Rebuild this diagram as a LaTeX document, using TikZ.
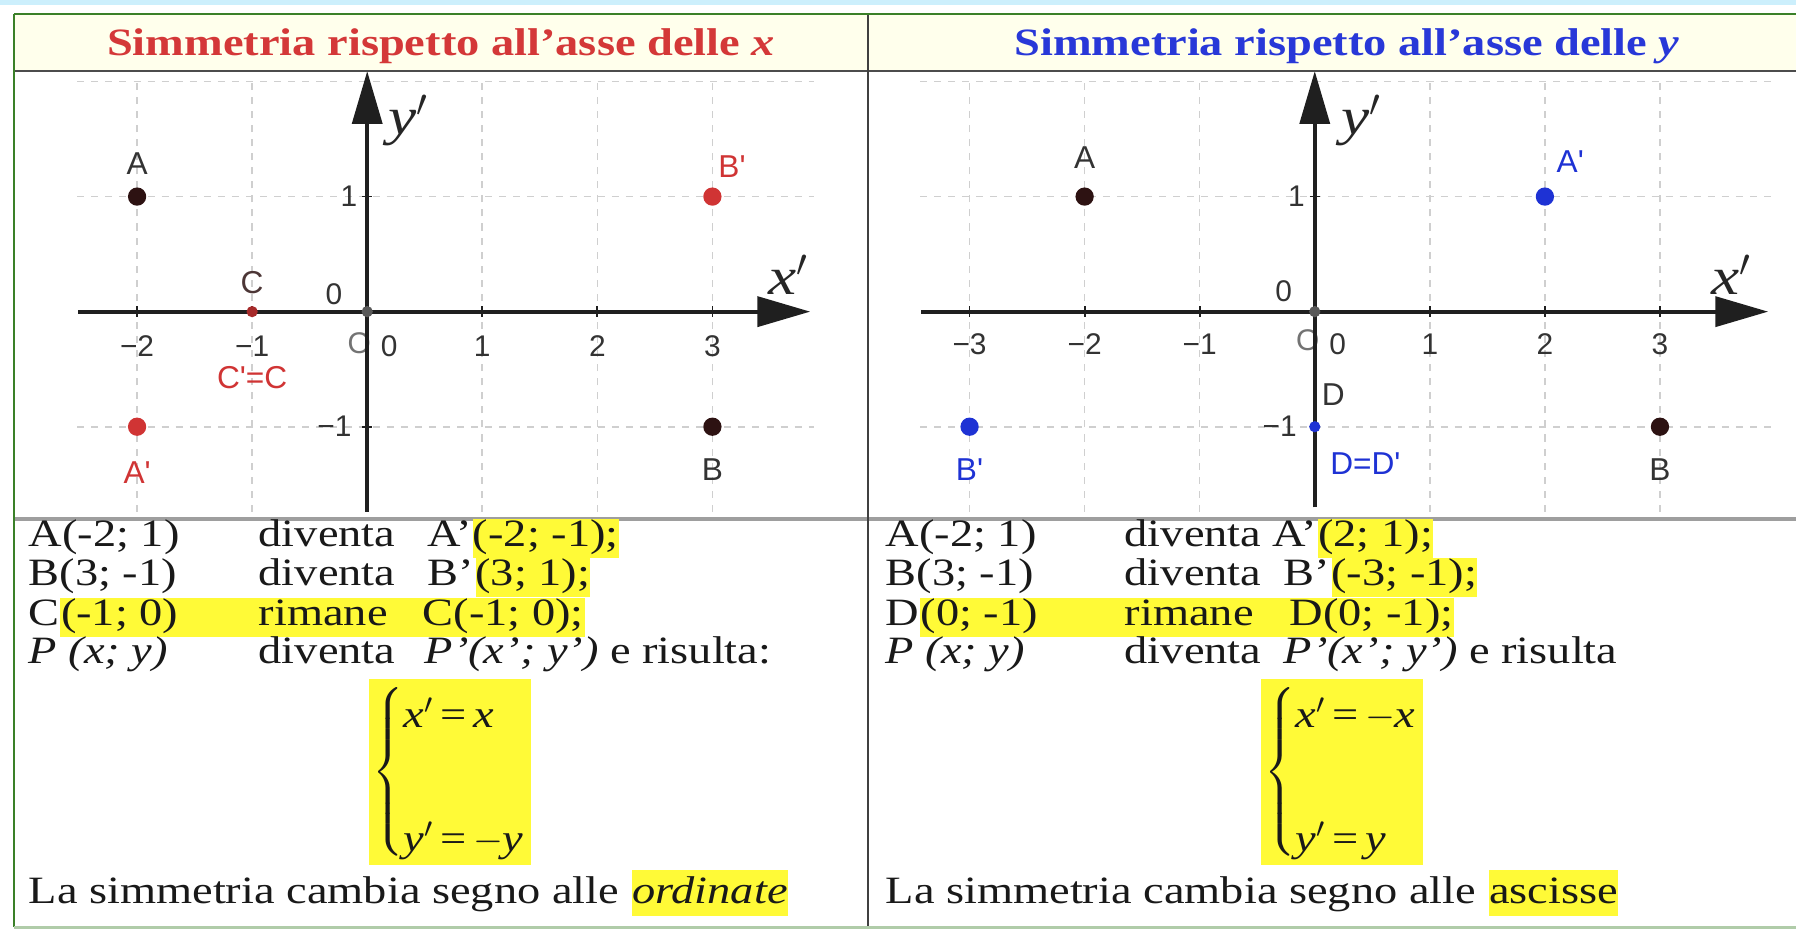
\documentclass[tikz,border=0pt]{standalone}
\usepackage{fontspec}
\setmainfont{Liberation Serif}[FakeStretch=1.2]
\newfontfamily\ggbfont{Liberation Sans}
\usepackage{tikz}
\usetikzlibrary{positioning,arrows.meta,backgrounds}

\definecolor{hl}{RGB}{255,250,55}
\definecolor{ggbred}{RGB}{208,52,52}
\definecolor{ggbblue}{RGB}{30,50,212}
\definecolor{ggbdark}{RGB}{45,18,18}
\definecolor{framegreen}{RGB}{58,128,40}
\definecolor{headbg}{RGB}{255,255,236}
\definecolor{titlered}{RGB}{212,56,56}
\definecolor{titleblue}{RGB}{40,56,216}

\begin{document}
\begin{tikzpicture}[x=0.01cm, y=0.01cm, >={Triangle[length=15pt,width=8.5pt]},
    gridline/.style={draw=gray!38, line width=0.45pt, dash pattern=on 2pt off 2pt},
    axisline/.style={draw=black!88, line width=1.1pt, ->},
    tickmark/.style={draw=black!88, line width=0.5pt},
    ggbdot/.style={circle, inner sep=0pt, minimum size=5.2pt, fill=#1},
    smalldot/.style={circle, inner sep=0pt, minimum size=3.2pt, fill=#1},
    lbl/.style={font=\ggbfont\fontsize{9}{10}\selectfont, inner sep=0pt},
    ticklbl/.style={font=\ggbfont\fontsize{8.5}{10}\selectfont, inner sep=0pt, text=black!80},
    axislbl/.style={font=\itshape\fontsize{15}{16}\selectfont, inner sep=0pt, text=black!85},
    cell/.style={anchor=base west, inner sep=0pt, text height=0.265cm, text depth=0.115cm, font=\fontsize{11}{13}\selectfont, text=black!90},
    hlcell/.style={cell, fill=hl},
    headtxt/.style={anchor=base, inner sep=0pt, font=\bfseries\fontsize{11}{13}\selectfont},
    system/.style={anchor=north west, fill=hl, inner xsep=1pt, inner ysep=0pt, minimum width=1.51cm, minimum height=1.83cm, font=\fontsize{11}{13}\selectfont, text=black!90}]

    \useasboundingbox (0,0) rectangle (1796,929);

    % Fondo
    \fill[cyan!20] (0,924) rectangle (1796,929);
    \fill[headbg] (15,858) rectangle (1796,915);

    % Grafico: simmetria rispetto all'asse x
    \begin{scope}[xshift=3.67cm, yshift=6.17cm, x=1.15cm, y=1.15cm]
        \foreach \x in {-2,-1,1,2,3}
            \draw[gridline] (\x,-1.74) -- (\x,2.03);
        \foreach \y in {-1,1,2}
            \draw[gridline] (-2.52,\y) -- (3.88,\y);
        \node[ticklbl, text=black!55] (LlO) at (-0.07,-0.27) {O};
        \draw[axisline] (-2.51,0) -- (3.85,0);
        \draw[axisline] (0,-1.74) -- (0,2.09);
        \foreach \x in {-2,-1,1,2,3}
            \draw[tickmark] (\x,-0.045) -- (\x,0.045);
        \foreach \y in {-1,1}
            \draw[tickmark] (-0.045,\y) -- (0.045,\y);

        \foreach \x/\t in {-2/−2,-1/−1,1/1,2/2,3/3}
            \node[ticklbl] (Ltx\x) at (\x,-0.3) {\t};
        \node[ticklbl, anchor=east] (Lty1) at (-0.08,1) {1};
        \node[ticklbl, anchor=east] (Ltym1) at (-0.13,-1) {−1};
        \node[ticklbl] (Lzx) at (0.19,-0.3) {0};
        \node[ticklbl] (Lzy) at (-0.29,0.15) {0};
        \node[axislbl] (Lxl) at (3.66,0.32) {x$'$};
        \node[axislbl] (Lyl) at (0.36,1.66) {y$'$};

        % punti
        \node[smalldot=black!65] (LO) at (0,0) {};
        \node[ggbdot=ggbdark] (LA) at (-2,1) {};
        \node[ggbdot=ggbdark] (LB) at (3,-1) {};
        \node[smalldot=ggbred!80!black] (LC) at (-1,0) {};
        \node[ggbdot=ggbred] (LAp) at (-2,-1) {};
        \node[ggbdot=ggbred] (LBp) at (3,1) {};

        \node[lbl, text=black!80] (LlA) at (-2,1.29) {A};
        \node[lbl, text=black!80] (LlB) at (3,-1.37) {B};
        \node[lbl, text=ggbdark!85] (LlC) at (-1,0.25) {C};
        \node[lbl, text=ggbred] (LlAp) at (-2,-1.4) {A'};
        \node[lbl, text=ggbred] (LlBp) at (3.17,1.26) {B'};
        \node[lbl, text=ggbred] (LlCp) at (-1,-0.57) {C'=C};
    \end{scope}

    % Grafico: simmetria rispetto all'asse y
    \begin{scope}[xshift=13.14cm, yshift=6.17cm, x=1.15cm, y=1.15cm]
        \foreach \x in {-3,-2,-1,1,2,3}
            \draw[gridline] (\x,-1.74) -- (\x,2.03);
        \foreach \y in {-1,1,2}
            \draw[gridline] (-3.43,\y) -- (3.97,\y);
        \node[ticklbl, text=black!55] (RlO) at (-0.06,-0.25) {O};
        \draw[axisline] (-3.42,0) -- (3.94,0);
        \draw[axisline] (0,-1.70) -- (0,2.09);
        \foreach \x in {-3,-2,-1,1,2,3}
            \draw[tickmark] (\x,-0.045) -- (\x,0.045);
        \foreach \y in {-1,1}
            \draw[tickmark] (-0.045,\y) -- (0.045,\y);

        \foreach \x/\t in {-3/−3,-2/−2,-1/−1,1/1,2/2,3/3}
            \node[ticklbl] (Rtx\x) at (\x,-0.28) {\t};
        \node[ticklbl, anchor=east] (Rty1) at (-0.08,1) {1};
        \node[ticklbl, anchor=east] (Rtym1) at (-0.15,-1) {−1};
        \node[ticklbl] (Rzx) at (0.2,-0.28) {0};
        \node[ticklbl] (Rzy) at (-0.27,0.18) {0};
        \node[axislbl] (Rxl) at (3.62,0.32) {x$'$};
        \node[axislbl] (Ryl) at (0.41,1.66) {y$'$};

        % punti
        \node[smalldot=black!65] (RO) at (0,0) {};
        \node[ggbdot=ggbdark] (RA) at (-2,1) {};
        \node[ggbdot=ggbdark] (RB) at (3,-1) {};
        \node[ggbdot=ggbblue] (RAp) at (2,1) {};
        \node[ggbdot=ggbblue] (RBp) at (-3,-1) {};
        \node[smalldot=ggbblue] (RD) at (0,-1) {};

        \node[lbl, text=black!80] (RlA) at (-2,1.34) {A};
        \node[lbl, text=black!80] (RlB) at (3,-1.37) {B};
        \node[lbl, text=ggbblue] (RlAp) at (2.22,1.30) {A'};
        \node[lbl, text=ggbblue] (RlBp) at (-3,-1.37) {B'};
        \node[lbl, text=black!80] (RlD) at (0.16,-0.72) {D};
        \node[lbl, text=ggbblue] (RlDp) at (0.44,-1.32) {D=D'};
    \end{scope}

    % Linee della tabella
    \draw[black!70, line width=0.7pt] (15,858) -- (1796,858);
    \draw[black!38, line width=1.1pt] (15,410) -- (1796,410);
    \draw[black!75, line width=0.7pt] (868,0) -- (868,915);
    \draw[framegreen, line width=0.85pt] (14,915) -- (1796,915);
    \draw[framegreen, line width=0.85pt] (14,2) -- (14,915);
    \draw[framegreen!40, line width=0.85pt] (14,2) -- (1796,2);

    % Titoli
    \node[headtxt, text=titlered] (tleft) at (441,874) {Simmetria rispetto all’asse delle \textit{x}};
    \node[headtxt, text=titleblue] (tright) at (1347,874) {Simmetria rispetto all’asse delle \textit{y}};

    % Testo colonna sinistra
    \node[cell] (l1a) at (28,383) {A(-2; 1)};
    \node[cell] (l1b) at (258,383) {diventa};
    \node[cell] (l1c) at (427,383) {A’};
    \node[hlcell] (l1d) at (l1c.base east) {(-2; -1);};

    \node[cell] (l2a) at (28,344) {B(3; -1)};
    \node[cell] (l2b) at (258,344) {diventa};
    \node[cell] (l2c) at (427,344) {B’};
    \node[hlcell] (l2d) at (l2c.base east) {(3; 1);};

    \node[cell] (l3a) at (28,304) {C};
    \node[cell] (l3b) at (l3a.base east) {(-1; 0)};
    \node[cell] (l3c) at (258,304) {rimane};
    \node[cell] (l3d) at (422,304) {C(-1; 0);};

    \node[cell] (l4a) at (28,266) {\textit{P (x; y)}};
    \node[cell] (l4b) at (258,266) {diventa};
    \node[cell] (l4c) at (424,266) {\textit{P’(x’; y’)} e risulta:};

    \node[system] (lsys) at (368,251) {$\left\{\begin{tabular}{@{}l@{}}\rule{0pt}{14pt}\textit{x}$'$\,=\,\textit{x}\\[22pt]\textit{y}$'$\,=\,$-$\textit{y}\end{tabular}\right.$};

    \node[cell, text height=0.33cm, text depth=0.13cm] (l5a) at (28,26) {La simmetria cambia segno alle\kern3.3pt};
    \node[hlcell, text height=0.33cm, text depth=0.13cm] (l5b) at (l5a.base east) {\textit{ordinate}};

    % Testo colonna destra
    \node[cell] (r1a) at (885,383) {A(-2; 1)};
    \node[cell] (r1b) at (1124,383) {diventa A’};
    \node[hlcell] (r1d) at (r1b.base east) {(2; 1);};

    \node[cell] (r2a) at (885,344) {B(3; -1)};
    \node[cell] (r2b) at (1124,344) {diventa};
    \node[cell] (r2c) at (1283,344) {B’};
    \node[hlcell] (r2d) at (r2c.base east) {(-3; -1);};

    \node[cell] (r3a) at (885,304) {D};
    \node[cell] (r3b) at (r3a.base east) {(0; -1)};
    \node[cell] (r3c) at (1124,304) {rimane};
    \node[cell] (r3d) at (1289,304) {D(0; -1);};

    \node[cell] (r4a) at (885,266) {\textit{P (x; y)}};
    \node[cell] (r4b) at (1124,266) {diventa};
    \node[cell] (r4c) at (1283,266) {\textit{P’(x’; y’)} e risulta};

    \node[system] (rsys) at (1260,251) {$\left\{\begin{tabular}{@{}l@{}}\rule{0pt}{14pt}\textit{x}$'$\,=\,$-$\textit{x}\\[22pt]\textit{y}$'$\,=\,\textit{y}\end{tabular}\right.$};

    \node[cell, text height=0.33cm, text depth=0.13cm] (r5a) at (885,26) {La simmetria cambia segno alle\kern3.3pt};
    \node[hlcell, text height=0.33cm, text depth=0.13cm] (r5b) at (r5a.base east) {ascisse};

    % Evidenziazioni su piu celle
    \begin{scope}[on background layer]
        \fill[hl] (l3b.south west) rectangle (l3d.north east);
        \fill[hl] (r3b.south west) rectangle (r3d.north east);
    \end{scope}
\end{tikzpicture}
\end{document}
